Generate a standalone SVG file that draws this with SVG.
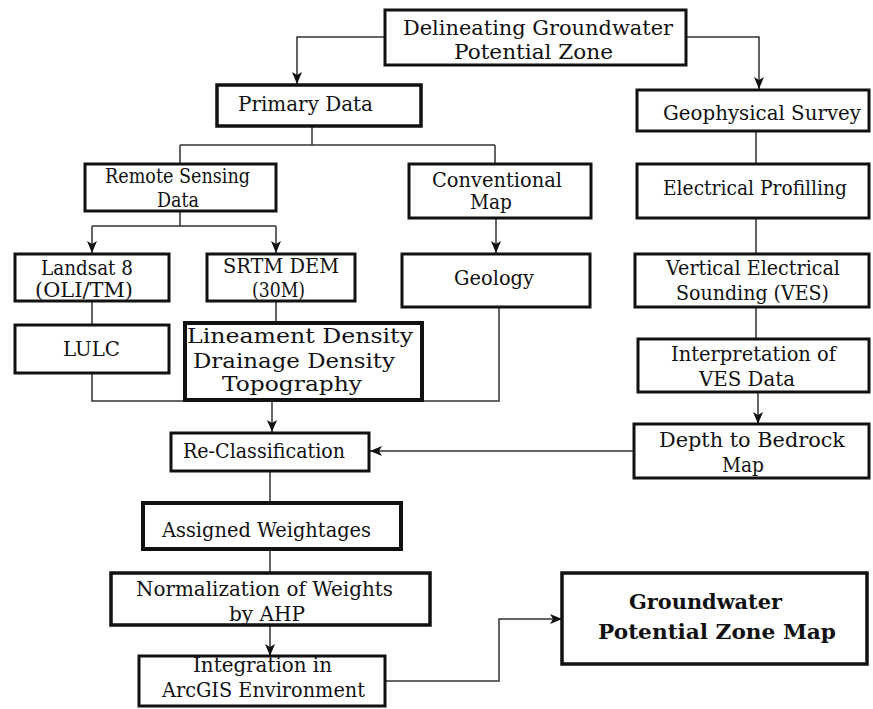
<svg xmlns="http://www.w3.org/2000/svg" width="873" height="709" viewBox="0 0 873 709">
<defs>
<marker id="arr" viewBox="0 0 12 10" refX="12" refY="5" markerWidth="12" markerHeight="10" markerUnits="userSpaceOnUse" orient="auto">
<path d="M0,0 L12,5 L0,10 L3,5 z" fill="#111"/>
</marker>
<style>
.box{fill:#fff;stroke:#111;stroke-width:3}
.thick{stroke-width:4}
.c{fill:none;stroke:#333;stroke-width:1.5}
text{font-family:"DejaVu Serif","Liberation Serif",serif;font-size:20px;fill:#111}
.b{font-weight:bold}
</style>
</defs>
<rect width="873" height="709" fill="#fff"/>
<g id="connectors">
<path class="c" d="M385,37 H297 V84" marker-end="url(#arr)"/>
<path class="c" d="M686,37 H759 V89" marker-end="url(#arr)"/>
<path class="c" d="M312,126 V145 M180,145 H495 M180,145 V164 M495,145 V164"/>
<path class="c" d="M180,211 V226 M92,226 H276"/>
<path class="c" d="M92,226 V253" marker-end="url(#arr)"/>
<path class="c" d="M276,226 V253" marker-end="url(#arr)"/>
<path class="c" d="M496,218 V253" marker-end="url(#arr)"/>
<path class="c" d="M756,131 V164 M756,218 V254 M756,307 V339"/>
<path class="c" d="M758,392 V424" marker-end="url(#arr)"/>
<path class="c" d="M92,301 V325 M276,301 V323"/>
<path class="c" d="M92,373 V401 H499 V307"/>
<path class="c" d="M272,401 V432" marker-end="url(#arr)"/>
<path class="c" d="M634,451 H370" marker-end="url(#arr)"/>
<path class="c" d="M270,471 V503 M270,549 V573"/>
<path class="c" d="M270,625 V656" marker-end="url(#arr)"/>
<path class="c" d="M385,681 H499 V619 H562" marker-end="url(#arr)"/>
</g>
<g id="n-top"><rect class="box" x="385" y="10" width="301" height="55"/>
<text x="403" y="35" textLength="270" lengthAdjust="spacingAndGlyphs">Delineating Groundwater</text>
<text x="454" y="59" textLength="159" lengthAdjust="spacingAndGlyphs">Potential  Zone</text></g>
<g id="n-primary"><rect class="box" x="217" y="85" width="204" height="41" style="stroke-width:3.5"/>
<text x="238" y="111" textLength="135" lengthAdjust="spacingAndGlyphs">Primary  Data</text></g>
<g id="n-remote"><rect class="box" x="85" y="164" width="191" height="47"/>
<text x="105" y="183" textLength="145" lengthAdjust="spacingAndGlyphs">Remote Sensing</text>
<text x="157" y="207" textLength="42" lengthAdjust="spacingAndGlyphs">Data</text></g>
<g id="n-conv"><rect class="box" x="409" y="164" width="182" height="54"/>
<text x="432" y="187" textLength="130" lengthAdjust="spacingAndGlyphs">Conventional</text>
<text x="470" y="209" textLength="42" lengthAdjust="spacingAndGlyphs">Map</text></g>
<g id="n-geophys"><rect class="box" x="637" y="90" width="232" height="41"/>
<text x="663" y="120" textLength="198" lengthAdjust="spacingAndGlyphs">Geophysical  Survey</text></g>
<g id="n-elec"><rect class="box" x="637" y="164" width="232" height="54"/>
<text x="663" y="195" textLength="184" lengthAdjust="spacingAndGlyphs">Electrical Profilling</text></g>
<g id="n-ves"><rect class="box" x="635" y="254" width="234" height="53"/>
<text x="666" y="275" textLength="174" lengthAdjust="spacingAndGlyphs">Vertical  Electrical</text>
<text x="676" y="300" textLength="153" lengthAdjust="spacingAndGlyphs">Sounding (VES)</text></g>
<g id="n-interp"><rect class="box" x="638" y="339" width="231" height="53"/>
<text x="671" y="361" textLength="165" lengthAdjust="spacingAndGlyphs">Interpretation  of</text>
<text x="699" y="386" textLength="96" lengthAdjust="spacingAndGlyphs">VES  Data</text></g>
<g id="n-depth"><rect class="box" x="634" y="424" width="235" height="54"/>
<text x="659" y="447" textLength="186" lengthAdjust="spacingAndGlyphs">Depth to Bedrock</text>
<text x="722" y="472" textLength="42" lengthAdjust="spacingAndGlyphs">Map</text></g>
<g id="n-landsat"><rect class="box" x="15" y="254" width="154" height="47"/>
<text x="41" y="275" textLength="92" lengthAdjust="spacingAndGlyphs">Landsat 8</text>
<text x="35" y="297" textLength="98" lengthAdjust="spacingAndGlyphs">(OLI/TM)</text></g>
<g id="n-srtm"><rect class="box" x="207" y="254" width="148" height="47"/>
<text x="223" y="273" textLength="116" lengthAdjust="spacingAndGlyphs">SRTM DEM</text>
<text x="252" y="297" textLength="53" lengthAdjust="spacingAndGlyphs">(30M)</text></g>
<g id="n-geology"><rect class="box" x="402" y="254" width="188" height="53"/>
<text x="454" y="285" textLength="80" lengthAdjust="spacingAndGlyphs">Geology</text></g>
<g id="n-lulc"><rect class="box" x="15" y="325" width="154" height="48"/>
<text x="63" y="356" textLength="57" lengthAdjust="spacingAndGlyphs">LULC</text></g>
<g id="n-lineament"><rect class="box thick" x="185" y="323" width="237" height="77"/>
<text x="187" y="343" textLength="226" lengthAdjust="spacingAndGlyphs">Lineament  Density</text>
<text x="193" y="368" textLength="202" lengthAdjust="spacingAndGlyphs">Drainage Density</text>
<text x="222" y="391" textLength="140" lengthAdjust="spacingAndGlyphs">Topography</text></g>
<g id="n-reclass"><rect class="box" x="171" y="433" width="198" height="38"/>
<text x="183" y="458" textLength="162" lengthAdjust="spacingAndGlyphs">Re-Classification</text></g>
<g id="n-assigned"><rect class="box thick" x="143" y="503" width="258" height="46"/>
<text x="162" y="537" textLength="209" lengthAdjust="spacingAndGlyphs">Assigned Weightages</text></g>
<g id="n-normal"><rect class="box" x="111" y="573" width="319" height="52" style="stroke-width:3.5"/>
<text x="136" y="596" textLength="257" lengthAdjust="spacingAndGlyphs">Normalization of  Weights</text>
<text x="229" y="621" textLength="76" lengthAdjust="spacingAndGlyphs">by AHP</text></g>
<g id="n-integ"><rect class="box" x="139" y="656" width="246" height="50"/>
<text x="193" y="672" textLength="139" lengthAdjust="spacingAndGlyphs">Integration  in</text>
<text x="162" y="697" textLength="203" lengthAdjust="spacingAndGlyphs">ArcGIS Environment</text></g>
<g id="n-gwmap"><rect class="box" x="562" y="573" width="305" height="91" style="stroke-width:3.5"/>
<text class="b" x="629" y="609" textLength="153" lengthAdjust="spacingAndGlyphs">Groundwater</text>
<text class="b" x="598" y="639" textLength="238" lengthAdjust="spacingAndGlyphs">Potential  Zone  Map</text></g>
</svg>
